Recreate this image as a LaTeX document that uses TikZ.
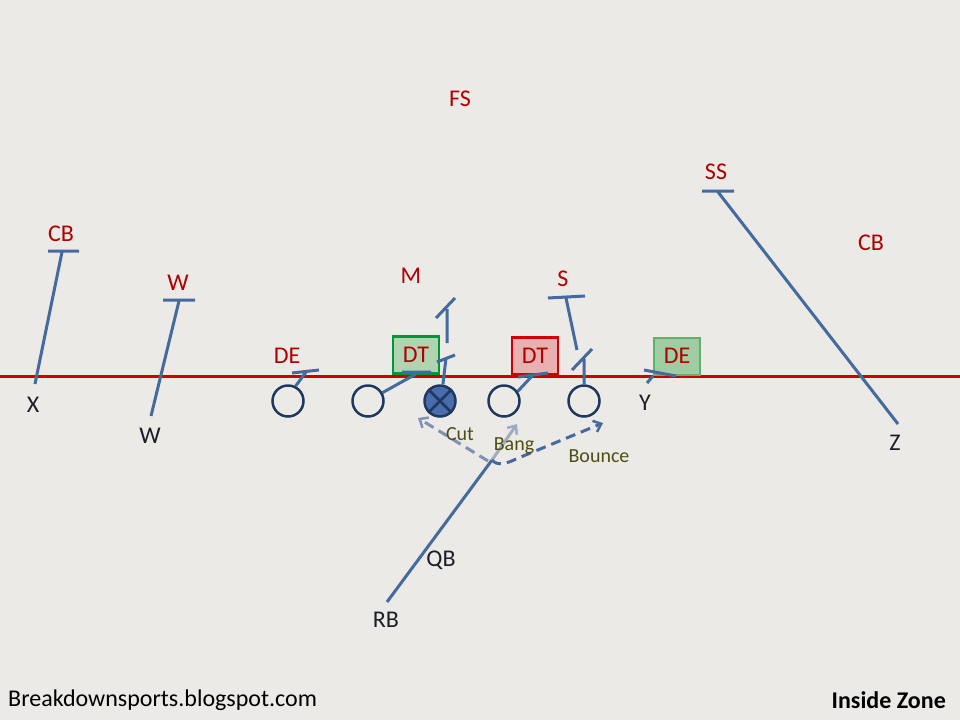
\documentclass[tikz,border=0pt]{standalone}
\usepackage{fontspec}
\setmainfont{Carlito}
\usetikzlibrary{arrows.meta}
\definecolor{bg}{RGB}{236,234,231}
\definecolor{losred}{RGB}{204,0,0}
\definecolor{route}{RGB}{68,106,158}
\definecolor{navy}{RGB}{31,56,96}
\definecolor{cfill}{RGB}{72,108,172}
\definecolor{deftxt}{RGB}{176,0,0}
\definecolor{offtxt}{RGB}{30,30,40}
\definecolor{olive}{RGB}{78,78,20}
\definecolor{faded}{RGB}{160,172,192}
\definecolor{midblue}{RGB}{128,146,178}
\definecolor{gfill}{RGB}{176,212,176}
\definecolor{gbord}{RGB}{0,150,60}
\definecolor{gfill2}{RGB}{160,204,164}
\definecolor{gbord2}{RGB}{96,176,110}
\definecolor{rfill}{RGB}{232,176,176}
\tikzset{
  deflbl/.style={text=deftxt,font=\fontsize{24}{28}\selectfont,inner sep=0pt},
  offlbl/.style={text=offtxt,font=\fontsize{24}{28}\selectfont,inner sep=0pt},
  runlbl/.style={text=olive,font=\fontsize{20}{24}\selectfont,inner sep=0pt},
  oline/.style={circle,draw=navy,line width=2.5pt,minimum size=31pt,inner sep=0pt},
  dbox/.style={draw,line width=2.5pt,minimum width=46pt,minimum height=37pt,inner sep=0pt,text=deftxt,font=\fontsize{24}{28}\selectfont},
  rt/.style={draw=route,line width=3pt},
  tip/.style={-{Straight Barb[length=7pt,width=12pt,line width=2.5pt]}},
  dsh/.style={dash pattern=on 10pt off 6pt},
}
\begin{document}
\begin{tikzpicture}[x=1pt,y=-1pt]
\fill[bg] (0,0) rectangle (960,720);
\useasboundingbox (0,0) rectangle (960,720);
% line of scrimmage
\coordinate (losL) at (0,376);
\coordinate (losR) at (960,376);
\draw[losred,line width=3pt] (losL) -- (losR);
% defensive boxes
\node[dbox,draw=gbord,fill=gfill] (dtl) at (416,355) {DT};
\node[dbox,draw=losred,fill=rfill] (dtr) at (535,356) {DT};
\node[dbox,draw=gbord2,fill=gfill2,line width=2pt] (der) at (677,356) {DE};
% defenders
\node[deflbl] (fs) at (460,99) {FS};
\node[deflbl] (ss) at (716,172) {SS};
\node[deflbl] (cbl) at (61,234) {CB};
\node[deflbl] (wl) at (178,283) {W};
\node[deflbl] (del) at (287,356) {DE};
\node[deflbl] (m) at (411,276) {M};
\node[deflbl] (s) at (563,279) {S};
\node[deflbl] (cbr) at (871,243) {CB};
% offense
\node[oline] (lt) at (288,401) {};
\node[oline] (lg) at (368,401) {};
\node[oline,fill=cfill] (c) at (440,401) {};
\draw[navy,line width=2.5pt] (c.45) -- (c.225) (c.135) -- (c.315);
\node[oline] (rg) at (504,401) {};
\node[oline] (rtk) at (584,401) {};
\node[offlbl] (x) at (33,405) {X};
\node[offlbl] (w) at (150,436) {W};
\node[offlbl] (y) at (645,403) {Y};
\node[offlbl] (z) at (895,443) {Z};
\node[offlbl] (qb) at (441,560) {QB};
\node[offlbl] (rb) at (386,620) {RB};
% X route
\coordinate (x1) at (35,384); \coordinate (x2) at (62,252);
\coordinate (x3) at (48,251); \coordinate (x4) at (79,251);
\draw[rt] (x1) -- (x2) (x3) -- (x4);
% W route
\coordinate (w1) at (151,416); \coordinate (w2) at (179,301);
\coordinate (w3) at (163,300); \coordinate (w4) at (195,300);
\draw[rt] (w1) -- (w2) (w3) -- (w4);
% Z route
\coordinate (z1) at (898,424); \coordinate (z2) at (718,192);
\coordinate (z3) at (702,191); \coordinate (z4) at (734,191);
\draw[rt] (z1) -- (z2) (z3) -- (z4);
% LT block on DE
\coordinate (lt1) at (306,372); \coordinate (lt2) at (292,373); \coordinate (lt3) at (319,370);
\draw[rt] (lt.63) -- (lt1) (lt2) -- (lt3);
% LG block on DT
\coordinate (lg1) at (416,374); \coordinate (lg2) at (402,372); \coordinate (lg3) at (431,372);
\draw[rt] (lg.30) -- (lg1) (lg2) -- (lg3);
% C block then climb to M
\coordinate (c1) at (446,358); \coordinate (c2) at (437,362); \coordinate (c3) at (455,355);
\coordinate (c4) at (447,343); \coordinate (c5) at (447,309); \coordinate (c6) at (436,318); \coordinate (c7) at (455,298);
\draw[rt] (c.80) -- (c1) (c2) -- (c3) (c4) -- (c5) (c6) -- (c7);
% RG block
\coordinate (rg1) at (533,375); \coordinate (rg2) at (518,377); \coordinate (rg3) at (548,373);
\draw[rt] (rg.35) -- (rg1) (rg2) -- (rg3);
% RT block then S
\coordinate (rt1) at (584,359); \coordinate (rt2) at (572,370); \coordinate (rt3) at (592,349);
\coordinate (rt4) at (577,350); \coordinate (rt5) at (566,298); \coordinate (rt6) at (548,298); \coordinate (rt7) at (585,296);
\draw[rt] (rtk.north) -- (rt1) (rt2) -- (rt3) (rt4) -- (rt5) (rt6) -- (rt7);
% Y block on DE
\coordinate (y1) at (647,383); \coordinate (y2) at (653,376); \coordinate (y3) at (644,370); \coordinate (y4) at (676,376);
\draw[rt] (y1) -- (y2) (y3) -- (y4);
% RB path and options
\coordinate (rb1) at (387,602);
\coordinate (mesh) at (492,460);
\coordinate (bangtip) at (517,424);
\coordinate (cuttip) at (418,418);
\coordinate (cutst) at (488,461);
\coordinate (bnc1) at (516,459);
\coordinate (bnctip) at (603,423);
\draw[rt] (rb1) -- (mesh);
\draw[faded,line width=3pt,tip] (mesh) -- (bangtip);
\draw[midblue,line width=3pt,dsh,tip] (cutst) -- (cuttip);
\draw[route,line width=3pt,dsh,tip] (mesh) .. controls (497,466) and (506,464) .. (bnc1) -- (bnctip);
\node[runlbl] (cut) at (460,434) {Cut};
\node[runlbl] (bang) at (514,446) {Bang};
\node[runlbl] (bounce) at (599,456) {Bounce};
% footer
\node[anchor=west,text=black,font=\fontsize{24}{28}\selectfont,inner sep=0pt] (site) at (8,700) {Breakdownsports.blogspot.com};
\node[anchor=east,text=black,font=\fontsize{24}{28}\selectfont\bfseries,inner sep=0pt] (title) at (946,700) {Inside Zone};
\end{tikzpicture}
\end{document}
